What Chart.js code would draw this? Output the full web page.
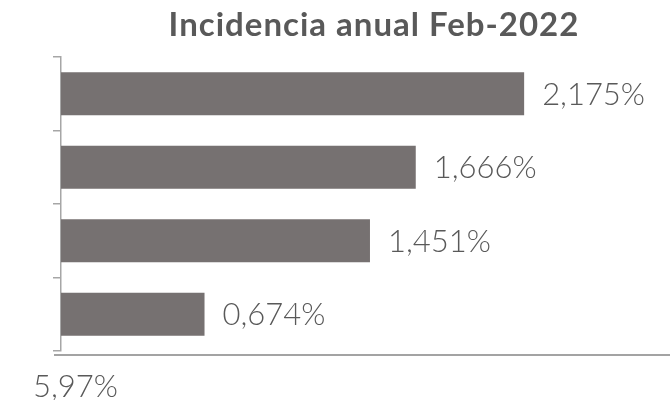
<!DOCTYPE html>
<html>
<head>
<meta charset="utf-8">
<script src="https://cdn.jsdelivr.net/npm/chart.js@4.4.1/dist/chart.umd.min.js"></script>
<style>
    html, body { margin: 0; padding: 0; background: #ffffff; }
    #wrap { width: 670px; height: 400px; }
</style>
</head>
<body>
<div id="wrap"><canvas id="incidenciaChart" width="670" height="400"></canvas></div>
<script>
// Incidencia anual - datos
const categories = ['', '', '', ''];
const incidencia = [2.175, 1.666, 1.451, 0.674];
const valueLabels = ['2,175%', '1,666%', '1,451%', '0,674%'];
const titleText = 'Incidencia anual Feb-2022';
const footText = '5,97%';

const colors = {
    bar: '#767171',
    text: '#595959',
    axis: '#a6a6a6',
    baseLine: '#858585'
};

const labelFont = '300 31px Lato, "Open Sans", sans-serif';

// Title, footer value and the baseline drawn on the canvas
const decorPlugin = {
    id: 'decor',
    afterDraw(chart) {
        const ctx = chart.ctx;
        ctx.save();
        ctx.fillStyle = colors.text;
        ctx.font = 'bold 33px Lato, "Open Sans", sans-serif';
        ctx.letterSpacing = '1px';
        ctx.textAlign = 'center';
        ctx.textBaseline = 'alphabetic';
        ctx.fillText(titleText, 374, 36);
        ctx.letterSpacing = '0px';

        ctx.font = labelFont;
        ctx.textAlign = 'left';
        ctx.fillText(footText, 33, 397);

        ctx.strokeStyle = colors.baseLine;
        ctx.lineWidth = 1.5;
        ctx.beginPath();
        ctx.moveTo(54, 355);
        ctx.lineTo(670, 355);
        ctx.stroke();
        ctx.restore();
    }
};

// Value labels at the end of each bar
const valueLabelPlugin = {
    id: 'valueLabels',
    afterDatasetsDraw(chart) {
        const ctx = chart.ctx;
        const meta = chart.getDatasetMeta(0);
        ctx.save();
        ctx.fillStyle = colors.text;
        ctx.font = labelFont;
        ctx.textAlign = 'left';
        ctx.textBaseline = 'middle';
        meta.data.forEach(function(bar, i) {
            ctx.fillText(valueLabels[i], bar.x + 18, bar.y + 1);
        });
        ctx.restore();
    }
};

const ctx = document.getElementById('incidenciaChart');
new Chart(ctx, {
    type: 'bar',
    data: {
        labels: categories,
        datasets: [{
            data: incidencia,
            backgroundColor: colors.bar,
            borderWidth: 0,
            categoryPercentage: 1,
            barPercentage: 0.585
        }]
    },
    options: {
        indexAxis: 'y',
        responsive: false,
        animation: false,
        layout: {
            padding: { top: 57, bottom: 49, left: 53, right: 0 }
        },
        plugins: {
            legend: { display: false },
            title: { display: false },
            tooltip: { enabled: false }
        },
        scales: {
            x: {
                display: false,
                min: 0,
                max: 2.86
            },
            y: {
                ticks: { display: false },
                grid: {
                    drawOnChartArea: false,
                    drawTicks: true,
                    tickLength: 8,
                    color: colors.axis,
                    lineWidth: 1.5
                },
                border: { color: colors.axis, width: 1.5 }
            }
        }
    },
    plugins: [decorPlugin, valueLabelPlugin]
});
</script>
</body>
</html>
